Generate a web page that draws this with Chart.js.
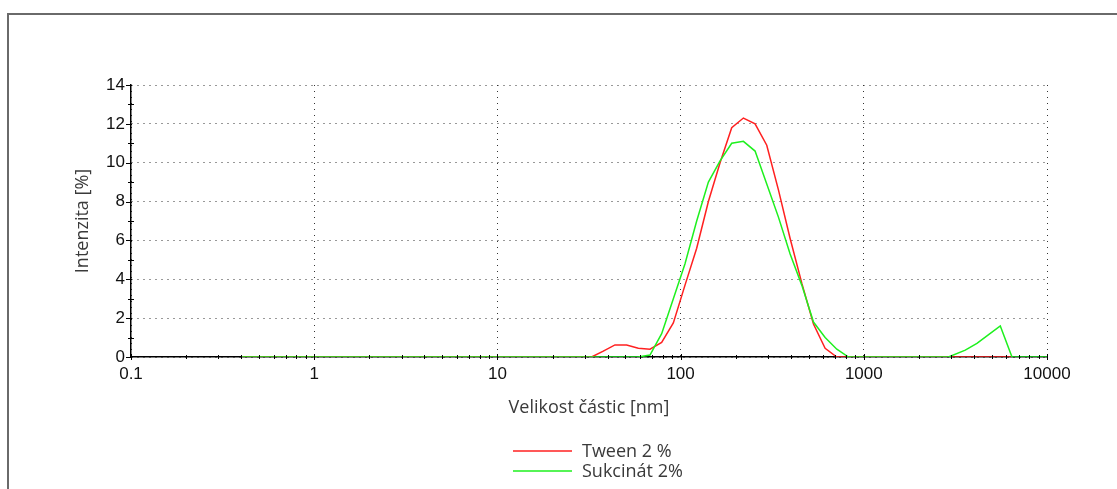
<!DOCTYPE html>
<html lang="cs">
<head>
    <meta charset="UTF-8">
    <title>Velikost částic</title>
    <script src="https://cdn.jsdelivr.net/npm/chart.js"></script>
    <style>
        body {
            margin: 0;
            background: #fff;
            overflow: hidden;
        }
        #frame {
            position: absolute;
            left: 7px;
            top: 13px;
            width: 2000px;
            height: 1000px;
            border-top: 2px solid #6a6a6a;
            border-left: 2px solid #6a6a6a;
        }
        #chart {
            position: absolute;
            left: 0;
            top: 0;
        }
    </style>
</head>
<body>
    <div id="frame"></div>
    <canvas id="chart" width="1117" height="489"></canvas>
    <script>
        // particle size classes [nm] and intensity [%]
        const sizes = [0.4, 32.67, 37.84, 43.82, 50.75, 58.77, 68.06, 78.82, 91.28, 105.7, 122.4, 141.8,
            164.2, 190.1, 220.2, 255.0, 295.3, 342.0, 396.1, 458.7, 531.2, 615.1, 712.4, 825.0,
            2900, 3580, 4145, 4801, 5560, 6439, 10000];
        const tween = [0, 0, 0.3, 0.62, 0.62, 0.45, 0.4, 0.75, 1.75, 3.7, 5.6, 8.0,
            10.0, 11.8, 12.3, 12.0, 10.9, 8.6, 6.1, 3.8, 1.7, 0.45, 0, 0,
            0, 0, 0, 0, 0, 0, null];
        const sukcinat = [0, 0, 0, 0, 0, 0, 0.1, 1.2, 3.0, 4.8, 7.0, 9.0,
            10.1, 11.0, 11.1, 10.6, 8.9, 7.2, 5.3, 3.7, 1.8, 1.0, 0.4, 0,
            0, 0.35, 0.7, 1.15, 1.6, 0, 0];
        const seriesNames = ['Tween 2 %', 'Sukcinát 2%'];
        const xTicks = [0.1, 1, 10, 100, 1000, 10000];
        const xTickLabels = ['0.1', '1', '10', '100', '1000', '10000'];
        const yTicks = [0, 2, 4, 6, 8, 10, 12, 14];

        const toPoints = (vals) => sizes.map((s, i) => ({ x: s, y: vals[i] }));

        // small tick marks crossing both axes, drawn over the data like the original
        const axisTicks = {
            id: 'axisTicks',
            afterDatasetsDraw(chart) {
                const { ctx, scales: { x, y } } = chart;
                const y0 = y.getPixelForValue(0);
                const x0 = x.getPixelForValue(0.1);
                ctx.save();
                ctx.strokeStyle = '#000';
                ctx.lineWidth = 1;
                ctx.beginPath();
                for (let d = 0.1; d < 5000; d *= 10) {
                    for (let k = 1; k <= 9; k++) {
                        const px = Math.round(x.getPixelForValue(d * k)) + 0.5;
                        const h = k === 1 ? 3 : 2;
                        ctx.moveTo(px, y0 - h);
                        ctx.lineTo(px, y0 + h);
                    }
                }
                const pxEnd = Math.round(x.getPixelForValue(10000)) + 0.5;
                ctx.moveTo(pxEnd, y0 - 3);
                ctx.lineTo(pxEnd, y0 + 3);
                for (let v = 0; v <= 14; v++) {
                    const py = Math.round(y.getPixelForValue(v)) + 0.5;
                    if (v % 2 === 0) {
                        ctx.moveTo(x0 - 5, py);
                        ctx.lineTo(x0 + 1, py);
                    } else {
                        ctx.moveTo(x0 - 3, py);
                        ctx.lineTo(x0 + 3, py);
                    }
                }
                ctx.stroke();
                ctx.restore();
            }
        };

        // legend stacked under the axis title
        const stackedLegend = {
            id: 'stackedLegend',
            afterDraw(chart) {
                const { ctx, chartArea } = chart;
                const cx = (chartArea.left + chartArea.right) / 2;
                ctx.save();
                ctx.font = '18px "Open Sans"';
                ctx.textBaseline = 'middle';
                ctx.fillStyle = '#3a3a3a';
                chart.data.datasets.forEach((ds, i) => {
                    const yy = 451 + i * 20;
                    ctx.strokeStyle = ds.borderColor;
                    ctx.lineWidth = 1.5;
                    ctx.beginPath();
                    ctx.moveTo(cx - 76, yy);
                    ctx.lineTo(cx - 17, yy);
                    ctx.stroke();
                    ctx.fillText(ds.label, cx - 7, yy + 1);
                });
                ctx.restore();
            }
        };

        const dotted = {
            color: '#333',
            lineWidth: 1
        };

        new Chart(document.getElementById('chart'), {
            type: 'line',
            data: {
                datasets: [
                    {
                        label: seriesNames[0],
                        data: toPoints(tween),
                        borderColor: '#ff2020',
                        borderWidth: 1.5,
                        pointRadius: 0,
                        tension: 0,
                        order: 1
                    },
                    {
                        label: seriesNames[1],
                        data: toPoints(sukcinat),
                        borderColor: '#1ef01e',
                        borderWidth: 1.5,
                        pointRadius: 0,
                        tension: 0,
                        order: 0
                    }
                ]
            },
            options: {
                responsive: false,
                animation: false,
                devicePixelRatio: 1,
                layout: {
                    padding: { left: 0, top: 85, right: 70, bottom: 62 }
                },
                plugins: {
                    legend: { display: false },
                    tooltip: { enabled: false }
                },
                scales: {
                    x: {
                        type: 'logarithmic',
                        min: 0.1,
                        max: 10000,
                        afterBuildTicks: (scale) => {
                            scale.ticks = xTicks.map((v) => ({ value: v }));
                        },
                        afterFit: (scale) => {
                            scale.height = 70;
                        },
                        ticks: {
                            autoSkip: false,
                            maxRotation: 0,
                            padding: 7,
                            color: '#111',
                            font: { family: '"Liberation Sans", Arial, sans-serif', size: 17 },
                            callback: (value, index) => xTickLabels[index]
                        },
                        grid: { ...dotted, drawTicks: false },
                        border: { display: true, color: '#000', width: 1.5, dash: [1, 5] },
                        title: {
                            display: true,
                            text: 'Velikost částic [nm]',
                            color: '#3a3a3a',
                            font: { family: '"Open Sans", sans-serif', size: 18 },
                            padding: { top: 0, bottom: 8 }
                        }
                    },
                    y: {
                        min: 0,
                        max: 14,
                        afterBuildTicks: (scale) => {
                            scale.ticks = yTicks.map((v) => ({ value: v }));
                        },
                        afterFit: (scale) => {
                            scale.width = 131;
                        },
                        ticks: {
                            padding: 6,
                            color: '#111',
                            font: { family: '"Liberation Sans", Arial, sans-serif', size: 17 }
                        },
                        grid: { ...dotted, drawTicks: false },
                        border: { display: true, color: '#000', width: 1.5, dash: [1, 5] },
                        title: {
                            display: true,
                            text: 'Intenzita [%]',
                            color: '#3a3a3a',
                            font: { family: '"Open Sans", sans-serif', size: 18 },
                            padding: { top: 72, bottom: 0 }
                        }
                    }
                }
            },
            plugins: [axisTicks, stackedLegend]
        });
    </script>
</body>
</html>
